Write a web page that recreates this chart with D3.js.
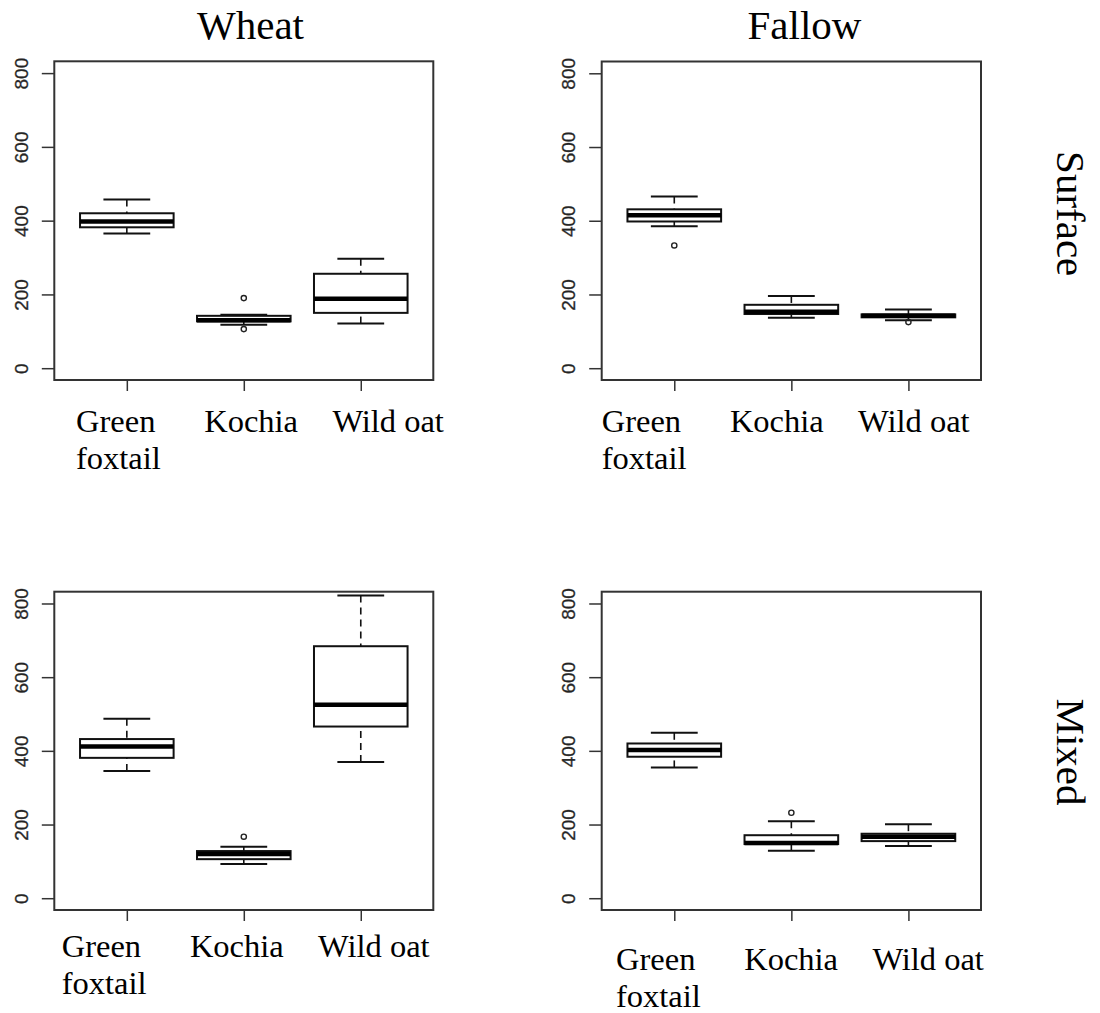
<!DOCTYPE html>
<html>
<head>
<meta charset="utf-8">
<script src="https://cdn.jsdelivr.net/npm/d3@7"></script>
<style>
  html, body { margin: 0; padding: 0; background: #fff; }
  svg { display: block; }
</style>
</head>
<body>
<svg id="chart" width="1100" height="1013"></svg>
<script>
// ---- data (five-number summaries: lower whisker, Q1, median, Q3, upper whisker) ----
const categories = ["Green foxtail", "Kochia", "Wild oat"];
const columnTitles = ["Wheat", "Fallow"];
const rowTitles = ["Surface", "Mixed"];
const yTicks = [0, 200, 400, 600, 800];

const wheatSurface = [[365, 382, 398, 420, 457], [118, 127, 130, 142, 145], [121, 150, 188, 256, 297]];
const wheatSurfaceOutliers = [[], [190, 106], []];
const fallowSurface = [[385, 398, 415, 431, 466], [137, 147, 153, 172, 196], [130, 138, 142, 146, 159]];
const fallowSurfaceOutliers = [[333], [], [125]];
const wheatMixed = [[345, 381, 412, 432, 487], [93, 106, 120, 128, 140], [370, 466, 525, 684, 822]];
const wheatMixedOutliers = [[], [167], []];
const fallowMixed = [[355, 384, 402, 420, 449], [129, 147, 150, 171, 209], [142, 155, 167, 175, 201]];
const fallowMixedOutliers = [[], [232], []];

// ---- layout ----
const svg = d3.select("#chart");
const panelDefs = [
  { stats: wheatSurface, outliers: wheatSurfaceOutliers, left: 54.3, right: 433.3, top: 61.3, bottom: 380, labelX: 76, labelY: 431.7 },
  { stats: fallowSurface, outliers: fallowSurfaceOutliers, left: 601.7, right: 981, top: 61.5, bottom: 380, labelX: 601.7, labelY: 431.7 },
  { stats: wheatMixed, outliers: wheatMixedOutliers, left: 54.3, right: 433.3, top: 591.7, bottom: 910, labelX: 61.7, labelY: 956.7 },
  { stats: fallowMixed, outliers: fallowMixedOutliers, left: 601.7, right: 981, top: 591.7, bottom: 910, labelX: 616, labelY: 970 }
];

const SERIF = '"Liberation Serif"';
const SANS = '"Liberation Sans"';

panelDefs.forEach(p => {
  const g = svg.append("g");
  const x = d3.scaleLinear().domain([0.38, 3.62]).range([p.left, p.right]);
  const y = d3.scaleLinear().domain([-32, 832]).range([p.bottom, p.top]);
  const halfBox = 0.4, halfStaple = 0.2;

  // y axis
  const yAxis = d3.axisLeft(y).tickValues(yTicks).tickSize(12.5).tickPadding(0).tickFormat(d3.format("d"));
  const ya = g.append("g").attr("transform", `translate(${p.left},0)`).call(yAxis);
  ya.attr("font-family", null).attr("font-size", null);
  ya.select(".domain").remove();
  ya.selectAll(".tick line").attr("stroke", "#333").attr("stroke-width", 1.5);
  ya.selectAll(".tick text")
    .attr("x", null).attr("dy", null)
    .attr("transform", "translate(-26.6,0) rotate(-90)")
    .attr("text-anchor", "middle")
    .attr("fill", "#222")
    .attr("stroke", "#444").attr("stroke-width", 0.35)
    .style("font-family", SANS).style("font-size", "19px");

  // x axis ticks (labels are placed as text boxes below)
  const xAxis = d3.axisBottom(x).tickValues([1, 2, 3]).tickSize(11).tickFormat("");
  const xa = g.append("g").attr("transform", `translate(0,${p.bottom})`).call(xAxis);
  xa.select(".domain").remove();
  xa.selectAll(".tick line").attr("stroke", "#333").attr("stroke-width", 1.5);

  // boxes
  p.stats.forEach((s, i) => {
    const c = i + 1;
    const bg = g.append("g");
    bg.append("line").attr("x1", x(c)).attr("x2", x(c)).attr("y1", y(s[4])).attr("y2", y(s[3]))
      .attr("stroke", "#111").attr("stroke-width", 1.6).attr("stroke-dasharray", "7,5");
    bg.append("line").attr("x1", x(c)).attr("x2", x(c)).attr("y1", y(s[0])).attr("y2", y(s[1]))
      .attr("stroke", "#111").attr("stroke-width", 1.6).attr("stroke-dasharray", "7,5");
    [s[0], s[4]].forEach(v => {
      bg.append("line").attr("x1", x(c - halfStaple)).attr("x2", x(c + halfStaple))
        .attr("y1", y(v)).attr("y2", y(v)).attr("stroke", "#111").attr("stroke-width", 2);
    });
    bg.append("rect").attr("x", x(c - halfBox)).attr("width", x(c + halfBox) - x(c - halfBox))
      .attr("y", y(s[3])).attr("height", y(s[1]) - y(s[3]))
      .attr("fill", "none").attr("stroke", "#111").attr("stroke-width", 2);
    bg.append("line").attr("x1", x(c - halfBox)).attr("x2", x(c + halfBox))
      .attr("y1", y(s[2])).attr("y2", y(s[2])).attr("stroke", "#000").attr("stroke-width", 4.5);
    p.outliers[i].forEach(v => {
      bg.append("circle").attr("cx", x(c)).attr("cy", y(v)).attr("r", 2.6)
        .attr("fill", "none").attr("stroke", "#222").attr("stroke-width", 1.4);
    });
  });

  // frame
  g.append("rect").attr("x", p.left).attr("y", p.top)
    .attr("width", p.right - p.left).attr("height", p.bottom - p.top)
    .attr("fill", "none").attr("stroke", "#333").attr("stroke-width", 2);

  // category labels
  categories.forEach((cat, i) => {
    const words = cat === "Green foxtail" ? ["Green", "foxtail"] : [cat];
    const t = g.append("text").attr("x", p.labelX + i * 128.2).attr("y", p.labelY)
      .style("font-family", SERIF).style("font-size", "32.5px").attr("fill", "#000");
    words.forEach((w, k) => {
      t.append("tspan").attr("x", p.labelX + i * 128.2).attr("dy", k === 0 ? 0 : 37).text(w);
    });
  });
});

// column titles
const titleX = [250.5, 804.5];
columnTitles.forEach((t, i) => {
  svg.append("text").attr("x", titleX[i]).attr("y", 39.3).attr("text-anchor", "middle")
    .style("font-family", SERIF).style("font-size", "41px").attr("fill", "#000").text(t);
});

// row titles (rotated)
const rowY = [213.7, 752];
rowTitles.forEach((t, i) => {
  svg.append("text").attr("transform", `translate(1057,${rowY[i]}) rotate(90)`)
    .attr("text-anchor", "middle")
    .style("font-family", SERIF).style("font-size", "41px").attr("fill", "#000").text(t);
});
</script>
</body>
</html>
